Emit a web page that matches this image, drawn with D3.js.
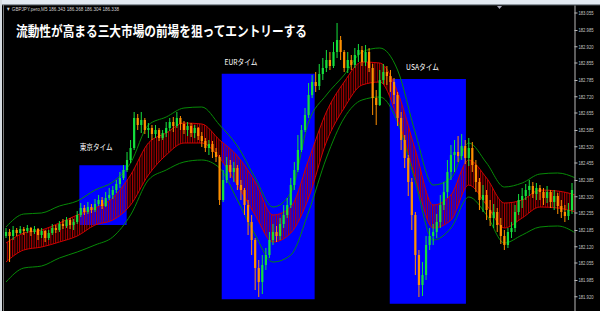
<!DOCTYPE html>
<html>
<head>
<meta charset="utf-8">
<script src="https://cdn.jsdelivr.net/npm/d3@7/dist/d3.min.js"></script>
<style>
  html, body { margin: 0; padding: 0; background: #000; overflow: hidden; }
  svg { display: block; }
</style>
</head>
<body>
<svg id="chart" width="600" height="311"></svg>
<script>
// GBPJPY M5 candles (prices)
const firstOpen = 182.161;
const closes = [
  182.177,182.161,182.185,182.173,182.189,182.181,182.193,182.177,182.189,182.165,
  182.181,182.153,182.173,182.193,182.185,182.209,182.201,182.225,182.205,182.217,
  182.245,182.273,182.257,182.277,182.265,182.289,182.305,182.281,182.313,182.325,
  182.345,182.369,182.393,182.425,182.465,182.513,182.633,182.605,182.625,182.585,
  182.593,182.569,182.585,182.553,182.573,182.593,182.617,182.601,182.633,182.609,
  182.585,182.601,182.573,182.593,182.561,182.541,182.513,182.529,182.497,182.477,
  182.305,182.385,182.445,182.417,182.433,182.365,182.345,182.285,182.217,182.145,
  182.033,181.977,182.045,182.085,182.145,182.177,182.161,182.209,182.245,182.285,
  182.365,182.425,182.505,182.585,182.645,182.725,182.777,182.761,182.809,182.833,
  182.865,182.841,182.897,182.945,182.897,182.833,182.865,182.845,182.885,182.905,
  182.857,182.897,182.833,182.713,182.685,182.785,182.817,182.801,182.777,182.725,
  182.633,182.545,182.473,182.377,182.245,182.085,181.965,182.005,182.125,182.161,
  182.177,182.217,182.285,182.337,182.417,182.485,182.497,182.481,182.521,182.473,
  182.513,182.445,182.377,182.305,182.325,182.265,182.233,182.257,182.205,182.161,
  182.125,182.177,182.193,182.257,182.305,182.321,182.345,182.361,182.329,182.353,
  182.337,182.313,182.337,182.297,182.321,182.281,182.257,182.241,182.265,182.345
];
const highs = [
  182.193,182.189,182.201,182.193,182.201,182.197,182.205,182.197,182.201,182.193,
  182.193,182.185,182.185,182.209,182.205,182.221,182.229,182.237,182.233,182.229,
  182.261,182.293,182.285,182.297,182.289,182.309,182.325,182.317,182.337,182.353,
  182.361,182.385,182.417,182.445,182.497,182.545,182.657,182.649,182.657,182.633,
  182.613,182.605,182.605,182.593,182.585,182.617,182.633,182.637,182.657,182.641,
  182.621,182.617,182.613,182.605,182.597,182.577,182.553,182.545,182.541,182.513,
  182.485,182.425,182.477,182.465,182.457,182.445,182.385,182.353,182.305,182.245,
  182.153,182.065,182.085,182.113,182.177,182.209,182.201,182.233,182.285,182.313,
  182.393,182.457,182.565,182.605,182.673,182.773,182.805,182.817,182.849,182.873,
  182.905,182.897,182.937,183.013,182.961,182.905,182.897,182.885,182.913,182.929,
  182.921,182.925,182.913,182.849,182.745,182.825,182.849,182.841,182.825,182.793,
  182.737,182.657,182.565,182.485,182.393,182.257,182.105,182.057,182.161,182.193,
  182.209,182.249,182.325,182.377,182.465,182.525,182.545,182.561,182.569,182.545,
  182.553,182.537,182.465,182.393,182.365,182.345,182.305,182.289,182.273,182.233,
  182.185,182.193,182.217,182.285,182.329,182.353,182.369,182.385,182.377,182.373,
  182.365,182.353,182.361,182.345,182.345,182.333,182.305,182.285,182.293,182.373
];
const lows = [
  182.153,182.057,182.145,182.161,182.169,182.165,182.173,182.161,182.169,182.145,
  182.153,182.137,182.145,182.165,182.173,182.177,182.189,182.193,182.189,182.185,
  182.209,182.237,182.245,182.249,182.253,182.257,182.281,182.269,182.277,182.305,
  182.309,182.333,182.353,182.385,182.417,182.453,182.505,182.585,182.573,182.569,
  182.553,182.545,182.553,182.541,182.545,182.557,182.581,182.577,182.593,182.585,
  182.569,182.561,182.557,182.553,182.545,182.517,182.497,182.485,182.473,182.457,
  182.285,182.297,182.373,182.393,182.377,182.345,182.305,182.245,182.165,182.085,
  181.945,181.917,181.929,182.025,182.073,182.125,182.137,182.145,182.193,182.233,
  182.273,182.345,182.417,182.497,182.577,182.633,182.713,182.737,182.745,182.785,
  182.817,182.825,182.833,182.873,182.865,182.817,182.813,182.825,182.833,182.857,
  182.841,182.841,182.817,182.645,182.605,182.681,182.769,182.765,182.737,182.689,
  182.601,182.505,182.433,182.321,182.185,182.005,181.917,181.921,181.985,182.105,
  182.125,182.153,182.193,182.265,182.313,182.385,182.417,182.457,182.465,182.449,
  182.441,182.417,182.337,182.265,182.257,182.225,182.201,182.193,182.177,182.129,
  182.105,182.113,182.153,182.177,182.245,182.273,182.305,182.321,182.313,182.305,
  182.305,182.285,182.293,182.273,182.265,182.249,182.233,182.217,182.225,182.249
];

// indicator values, one every 5 bars
const bandBars = d3.range(0, 161, 5);
const bbUpper = [182.197,182.249,182.253,182.281,182.301,182.345,182.377,182.453,182.605,182.637,182.673,
  182.677,182.605,182.521,182.393,182.277,182.333,182.617,182.725,182.805,182.897,182.913,
  182.825,182.573,182.365,182.393,182.533,182.453,182.357,182.373,182.409,182.413,182.393];
const maUpper = [182.133,182.173,182.185,182.213,182.245,182.273,182.313,182.405,182.533,182.573,182.613,
  182.609,182.545,182.481,182.377,182.245,182.277,182.465,182.657,182.777,182.857,182.853,
  182.737,182.505,182.285,182.325,182.465,182.393,182.293,182.305,182.345,182.341,182.325];
const maLower = [182.057,182.105,182.117,182.137,182.161,182.205,182.225,182.285,182.405,182.485,182.533,
  182.533,182.473,182.365,182.245,182.137,182.173,182.313,182.537,182.673,182.765,182.777,
  182.633,182.393,182.193,182.225,182.365,182.285,182.193,182.233,182.277,182.273,182.257];
const bbLower = [181.977,182.033,182.041,182.073,182.097,182.125,182.157,182.245,182.385,182.425,182.457,
  182.465,182.433,182.305,182.165,182.057,182.085,182.257,182.473,182.633,182.705,182.717,
  182.617,182.377,182.145,182.193,182.317,182.245,182.133,182.165,182.197,182.201,182.173];

// session boxes (bar position, price) and their labels
const sessionNames = ["東京タイム", "EURタイム", "USAタイム"];
const sessionFrom = [20.6, 60.6, 107.8];
const sessionTo = [33.9, 86.7, 129.2];
const sessionHigh = [182.444, 182.810, 182.789];
const sessionLow = [182.205, 181.908, 181.890];
const labelBar = [20.7, 61.4, 112.4];
const labelPrice = [182.517, 182.857, 182.837];

const priceTicks = ["183.055","182.985","182.920","182.855","182.785","182.720","182.655","182.585",
  "182.520","182.455","182.385","182.320","182.255","182.185","182.120","182.055","181.985","181.920","181.855"];

const title = "流動性が高まる三大市場の前場を狙ってエントリーする";
const header = "▼ GBPJPY.pero,M5  186.343 186.368 186.304 186.338";

const svg = d3.select("#chart");
const W = 600, H = 311;
const plotLeft = 4, plotRight = 574.5, plotTop = 5;

const x = d3.scaleLinear().domain([0, closes.length - 1]).range([6, 572]);
const y = d3.scaleLinear().domain([181.861, 183.085]).range([311, 5]);

svg.append("rect").attr("width", W).attr("height", H).attr("fill", "#000");

const defs = svg.append("defs");
defs.append("clipPath").attr("id", "plot")
  .append("rect").attr("x", plotLeft).attr("y", plotTop)
  .attr("width", plotRight - plotLeft).attr("height", H - plotTop);
const hatch = defs.append("pattern").attr("id", "hatch")
  .attr("patternUnits", "userSpaceOnUse").attr("width", 2.4).attr("height", 4);
hatch.append("rect").attr("width", 1).attr("height", 4).attr("fill", "#b80000");

const g = svg.append("g").attr("clip-path", "url(#plot)");

// session rectangles
const sessions = sessionNames.map((name, i) => ({
  name, from: sessionFrom[i], to: sessionTo[i], hi: sessionHigh[i], lo: sessionLow[i],
  lb: labelBar[i], lp: labelPrice[i]
}));
g.selectAll("rect.session").data(sessions).enter().append("rect")
  .attr("class", "session")
  .attr("x", d => x(d.from)).attr("width", d => x(d.to) - x(d.from))
  .attr("y", d => y(d.hi)).attr("height", d => y(d.lo) - y(d.hi))
  .attr("fill", "#0000ff");

// red MA band with hatch
const bands = bandBars.map((b, i) => ({
  b, bu: bbUpper[i], mu: maUpper[i], ml: maLower[i], bl: bbLower[i]
}));
const curve = d3.curveMonotoneX;
g.append("path").datum(bands)
  .attr("d", d3.area().curve(curve).x(d => x(d.b)).y0(d => y(d.ml)).y1(d => y(d.mu)))
  .attr("fill", "url(#hatch)");
[["mu", "#d00000"], ["ml", "#d00000"], ["bu", "#078a07"], ["bl", "#078a07"]].forEach(([k, c]) => {
  g.append("path").datum(bands)
    .attr("d", d3.line().curve(curve).x(d => x(d.b)).y(d => y(d[k])))
    .attr("fill", "none").attr("stroke", c).attr("stroke-width", 1);
});

// candles
const candles = closes.map((c, i) => ({
  i, o: i ? closes[i - 1] : firstOpen, c, h: highs[i], l: lows[i]
}));
const upCol = "#14e03c", dnCol = "#ff9000";
const cg = g.selectAll("g.candle").data(candles).enter().append("g").attr("class", "candle");
cg.append("line")
  .attr("x1", d => x(d.i)).attr("x2", d => x(d.i))
  .attr("y1", d => y(d.h)).attr("y2", d => y(d.l))
  .attr("stroke", d => d.c >= d.o ? upCol : dnCol).attr("stroke-width", 1);
cg.append("rect")
  .attr("x", d => x(d.i) - 1.1).attr("width", 2.2)
  .attr("y", d => y(Math.max(d.o, d.c)))
  .attr("height", d => Math.max(1, Math.abs(y(d.o) - y(d.c))))
  .attr("fill", d => d.c >= d.o ? upCol : dnCol);

// session labels
svg.selectAll("text.session").data(sessions).enter().append("text")
  .attr("class", "session")
  .attr("x", d => x(d.lb)).attr("y", d => y(d.lp)).attr("dy", "0.35em")
  .attr("fill", "#fff").attr("font-family", "'Noto Sans CJK JP', sans-serif")
  .attr("font-size", 8).attr("textLength", 33).attr("lengthAdjust", "spacingAndGlyphs")
  .text(d => d.name);

// title
svg.append("text").attr("x", 16).attr("y", 36)
  .attr("fill", "#fff").attr("font-family", "'Noto Sans CJK JP', sans-serif")
  .attr("font-size", 14).attr("font-weight", 700)
  .attr("textLength", 291).attr("lengthAdjust", "spacingAndGlyphs")
  .text(title);

// price axis
const axis = d3.axisRight(y)
  .tickValues(priceTicks.map(Number))
  .tickFormat(d3.format(".3f"))
  .tickSize(3).tickSizeOuter(0);
const ax = svg.append("g").attr("transform", `translate(${plotRight},0)`).call(axis);
ax.select(".domain").attr("stroke", "#b8b8b8");
ax.selectAll(".tick line").attr("stroke", "#b8b8b8");
ax.selectAll(".tick text")
  .attr("x", 4).attr("fill", "#c8c8c8")
  .attr("font-family", "'Liberation Sans', sans-serif").attr("font-size", 5.5)
  .attr("textLength", 15).attr("lengthAdjust", "spacingAndGlyphs");

// window frame
svg.append("rect").attr("x", 0).attr("y", 0).attr("width", W).attr("height", 4.5).attr("fill", "#e3eaf2");
svg.append("line").attr("x1", 0).attr("x2", W).attr("y1", 4.75).attr("y2", 4.75).attr("stroke", "#9aa4ae");
svg.append("rect").attr("x", 0).attr("y", 0).attr("width", 2).attr("height", H).attr("fill", "#d6dce2");
svg.append("line").attr("x1", 3.5).attr("x2", 3.5).attr("y1", 5).attr("y2", H).attr("stroke", "#777");
svg.append("path").attr("d", "M497,6 L502,6 L499.5,9 Z").attr("fill", "#aab");

// header line
svg.append("text").attr("x", 6).attr("y", 11)
  .attr("fill", "#d0d0d0").attr("font-family", "'Liberation Sans', sans-serif")
  .attr("font-size", 5.5).attr("textLength", 113).attr("lengthAdjust", "spacingAndGlyphs")
  .text(header);
</script>
</body>
</html>
